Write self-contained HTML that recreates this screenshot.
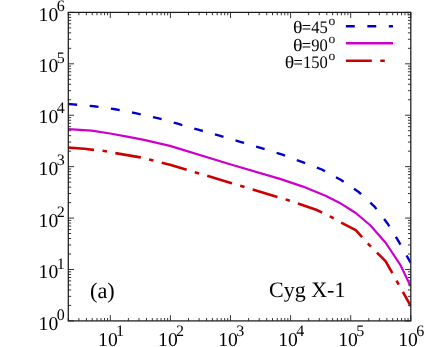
<!DOCTYPE html><html><head><meta charset="utf-8"><style>html,body{margin:0;padding:0;background:#fff}svg{display:block}text{font-family:"Liberation Serif",serif;fill:#000;text-rendering:geometricPrecision}</style></head><body>
<svg width="434" height="347" viewBox="0 0 434 347">
<rect width="434" height="347" fill="#fff"/>
<path d="M68.30 320.90v-2.85M68.30 12.40v2.85M78.88 320.90v-2.85M78.88 12.40v2.85M86.39 320.90v-2.85M86.39 12.40v2.85M92.22 320.90v-2.85M92.22 12.40v2.85M96.97 320.90v-2.85M96.97 12.40v2.85M101.00 320.90v-2.85M101.00 12.40v2.85M104.48 320.90v-2.85M104.48 12.40v2.85M107.56 320.90v-2.85M107.56 12.40v2.85M110.31 320.90v-5.70M110.31 12.40v5.70M128.40 320.90v-2.85M128.40 12.40v2.85M138.98 320.90v-2.85M138.98 12.40v2.85M146.49 320.90v-2.85M146.49 12.40v2.85M152.31 320.90v-2.85M152.31 12.40v2.85M157.07 320.90v-2.85M157.07 12.40v2.85M161.10 320.90v-2.85M161.10 12.40v2.85M164.58 320.90v-2.85M164.58 12.40v2.85M167.66 320.90v-2.85M167.66 12.40v2.85M170.41 320.90v-5.70M170.41 12.40v5.70M188.50 320.90v-2.85M188.50 12.40v2.85M199.08 320.90v-2.85M199.08 12.40v2.85M206.59 320.90v-2.85M206.59 12.40v2.85M212.41 320.90v-2.85M212.41 12.40v2.85M217.17 320.90v-2.85M217.17 12.40v2.85M221.19 320.90v-2.85M221.19 12.40v2.85M224.68 320.90v-2.85M224.68 12.40v2.85M227.75 320.90v-2.85M227.75 12.40v2.85M230.50 320.90v-5.70M230.50 12.40v5.70M248.60 320.90v-2.85M248.60 12.40v2.85M259.18 320.90v-2.85M259.18 12.40v2.85M266.69 320.90v-2.85M266.69 12.40v2.85M272.51 320.90v-2.85M272.51 12.40v2.85M277.27 320.90v-2.85M277.27 12.40v2.85M281.29 320.90v-2.85M281.29 12.40v2.85M284.78 320.90v-2.85M284.78 12.40v2.85M287.85 320.90v-2.85M287.85 12.40v2.85M290.60 320.90v-5.70M290.60 12.40v5.70M308.69 320.90v-2.85M308.69 12.40v2.85M319.28 320.90v-2.85M319.28 12.40v2.85M326.79 320.90v-2.85M326.79 12.40v2.85M332.61 320.90v-2.85M332.61 12.40v2.85M337.37 320.90v-2.85M337.37 12.40v2.85M341.39 320.90v-2.85M341.39 12.40v2.85M344.88 320.90v-2.85M344.88 12.40v2.85M347.95 320.90v-2.85M347.95 12.40v2.85M350.70 320.90v-5.70M350.70 12.40v5.70M368.79 320.90v-2.85M368.79 12.40v2.85M379.38 320.90v-2.85M379.38 12.40v2.85M386.88 320.90v-2.85M386.88 12.40v2.85M392.71 320.90v-2.85M392.71 12.40v2.85M397.47 320.90v-2.85M397.47 12.40v2.85M401.49 320.90v-2.85M401.49 12.40v2.85M404.98 320.90v-2.85M404.98 12.40v2.85M408.05 320.90v-2.85M408.05 12.40v2.85M410.80 320.90v-5.70M410.80 12.40v5.70M68.30 320.90h5.70M410.80 320.90h-5.70M68.30 305.42h2.85M410.80 305.42h-2.85M68.30 296.37h2.85M410.80 296.37h-2.85M68.30 289.94h2.85M410.80 289.94h-2.85M68.30 284.96h2.85M410.80 284.96h-2.85M68.30 280.89h2.85M410.80 280.89h-2.85M68.30 277.45h2.85M410.80 277.45h-2.85M68.30 274.47h2.85M410.80 274.47h-2.85M68.30 271.84h2.85M410.80 271.84h-2.85M68.30 269.48h5.70M410.80 269.48h-5.70M68.30 254.01h2.85M410.80 254.01h-2.85M68.30 244.95h2.85M410.80 244.95h-2.85M68.30 238.53h2.85M410.80 238.53h-2.85M68.30 233.54h2.85M410.80 233.54h-2.85M68.30 229.47h2.85M410.80 229.47h-2.85M68.30 226.03h2.85M410.80 226.03h-2.85M68.30 223.05h2.85M410.80 223.05h-2.85M68.30 220.42h2.85M410.80 220.42h-2.85M68.30 218.07h5.70M410.80 218.07h-5.70M68.30 202.59h2.85M410.80 202.59h-2.85M68.30 193.53h2.85M410.80 193.53h-2.85M68.30 187.11h2.85M410.80 187.11h-2.85M68.30 182.13h2.85M410.80 182.13h-2.85M68.30 178.06h2.85M410.80 178.06h-2.85M68.30 174.61h2.85M410.80 174.61h-2.85M68.30 171.63h2.85M410.80 171.63h-2.85M68.30 169.00h2.85M410.80 169.00h-2.85M68.30 166.65h5.70M410.80 166.65h-5.70M68.30 151.17h2.85M410.80 151.17h-2.85M68.30 142.12h2.85M410.80 142.12h-2.85M68.30 135.69h2.85M410.80 135.69h-2.85M68.30 130.71h2.85M410.80 130.71h-2.85M68.30 126.64h2.85M410.80 126.64h-2.85M68.30 123.20h2.85M410.80 123.20h-2.85M68.30 120.22h2.85M410.80 120.22h-2.85M68.30 117.59h2.85M410.80 117.59h-2.85M68.30 115.23h5.70M410.80 115.23h-5.70M68.30 99.76h2.85M410.80 99.76h-2.85M68.30 90.70h2.85M410.80 90.70h-2.85M68.30 84.28h2.85M410.80 84.28h-2.85M68.30 79.29h2.85M410.80 79.29h-2.85M68.30 75.22h2.85M410.80 75.22h-2.85M68.30 71.78h2.85M410.80 71.78h-2.85M68.30 68.80h2.85M410.80 68.80h-2.85M68.30 66.17h2.85M410.80 66.17h-2.85M68.30 63.82h5.70M410.80 63.82h-5.70M68.30 48.34h2.85M410.80 48.34h-2.85M68.30 39.28h2.85M410.80 39.28h-2.85M68.30 32.86h2.85M410.80 32.86h-2.85M68.30 27.88h2.85M410.80 27.88h-2.85M68.30 23.81h2.85M410.80 23.81h-2.85M68.30 20.36h2.85M410.80 20.36h-2.85M68.30 17.38h2.85M410.80 17.38h-2.85M68.30 14.75h2.85M410.80 14.75h-2.85M68.30 12.40h5.70M410.80 12.40h-5.70" stroke="#000" stroke-width="0.8" fill="none"/>
<clipPath id="c"><rect x="68.3" y="12.4" width="342.5" height="308.5"/></clipPath>
<g clip-path="url(#c)" fill="none" stroke-linejoin="round">
<path d="M68.3 104.0L73.0 104.4L94.0 106.2L115.2 109.3L136.5 113.4L157.7 118.1L177.7 123.7L199.0 129.9L219.5 135.7L240.2 141.8L260.7 147.9L281.7 154.4L301.9 161.9L321.9 169.5L341.1 180.0L358.7 192.0L374.5 206.6L387.7 223.7L398.7 241.5L408.9 259.6L410.8 262.9" stroke="#0000cc" stroke-width="2.4" stroke-dasharray="8.9 12.55"/>
<path d="M68.3 129.1L91.6 130.7L110.1 133.5L128.5 136.8L144.0 139.9L170.0 145.9L230.0 164.2L280.0 178.9L303.0 186.6L326.1 195.9L339.8 202.9L355.7 213.0L370.5 225.5L385.8 243.0L400.3 264.8L410.6 286.2" stroke="#cc00cc" stroke-width="2.2"/>
<path d="M68.3 147.6L84.3 148.7L93.5 149.9L104.5 151.0L115.2 153.1L140.5 157.4L170.0 164.7L230.0 182.7L290.0 200.7L316.9 210.0L331.0 216.9L341.2 222.6L355.7 230.2L369.1 244.8L385.7 261.3L397.6 282.6L410.8 306.0" stroke="#cc0000" stroke-width="2.6" stroke-dasharray="25.9 8.5 4.5 8.5"/>
</g>
<rect x="68.3" y="12.4" width="342.5" height="308.5" fill="none" stroke="#1c1c1c" stroke-width="1.25"/>
<filter id="f" x="0" y="0" width="434" height="347" filterUnits="userSpaceOnUse"><feOffset dx="0" dy="0"/></filter><g filter="url(#f)">
<path d="M345.9 26.2H393.0" stroke="#0000cc" stroke-width="2.45" stroke-dasharray="8.9 12.55" fill="none"/>
<path d="M345.9 43.3H393.0" stroke="#cc00cc" stroke-width="2.4" fill="none"/>
<path d="M345.9 60.7H386" stroke="#cc0000" stroke-width="2.55" stroke-dasharray="25.9 8.5 4.5 8.5" fill="none"/>
<text transform="translate(292.94 33.0) scale(1.134 1)" font-size="17.5">θ</text>
<text transform="translate(301.84 33.0) scale(0.945 1)" font-size="17.5">=45</text>
<text x="328.6" y="25.0" font-size="13.5">o</text>
<text transform="translate(292.94 50.8) scale(1.134 1)" font-size="17.5">θ</text>
<text transform="translate(301.84 50.8) scale(0.945 1)" font-size="17.5">=90</text>
<text x="328.6" y="42.8" font-size="13.5">o</text>
<text transform="translate(284.67 67.9) scale(1.134 1)" font-size="17.5">θ</text>
<text transform="translate(293.57 67.9) scale(0.945 1)" font-size="17.5">=150</text>
<text x="328.6" y="59.900000000000006" font-size="13.5">o</text>
<text x="38.6" y="329.9" font-size="19.6">10</text><text x="56.7" y="320.2" font-size="16">0</text>
<text x="38.6" y="278.3" font-size="19.6">10</text><text x="56.7" y="268.6" font-size="16">1</text>
<text x="38.6" y="226.5" font-size="19.6">10</text><text x="56.7" y="216.8" font-size="16">2</text>
<text x="38.6" y="174.7" font-size="19.6">10</text><text x="56.7" y="165.0" font-size="16">3</text>
<text x="38.6" y="123.0" font-size="19.6">10</text><text x="56.7" y="113.3" font-size="16">4</text>
<text x="38.6" y="72.4" font-size="19.6">10</text><text x="56.7" y="62.7" font-size="16">5</text>
<text x="38.6" y="20.9" font-size="19.6">10</text><text x="56.7" y="11.2" font-size="16">6</text>
<text x="98.1" y="345.6" font-size="19.6">10</text><text x="116.1" y="336.1" font-size="16">1</text>
<text x="158.1" y="345.6" font-size="19.6">10</text><text x="176.1" y="336.1" font-size="16">2</text>
<text x="218.2" y="345.6" font-size="19.6">10</text><text x="236.2" y="336.1" font-size="16">3</text>
<text x="278.2" y="345.6" font-size="19.6">10</text><text x="296.2" y="336.1" font-size="16">4</text>
<text x="338.3" y="345.6" font-size="19.6">10</text><text x="356.3" y="336.1" font-size="16">5</text>
<text x="398.3" y="345.6" font-size="19.6">10</text><text x="416.3" y="336.1" font-size="16">6</text>
<text x="90.0" y="298" font-size="22.3">(a)</text>
<text x="269" y="297.3" font-size="22">Cyg X-1</text>
</g>
</svg></body></html>
